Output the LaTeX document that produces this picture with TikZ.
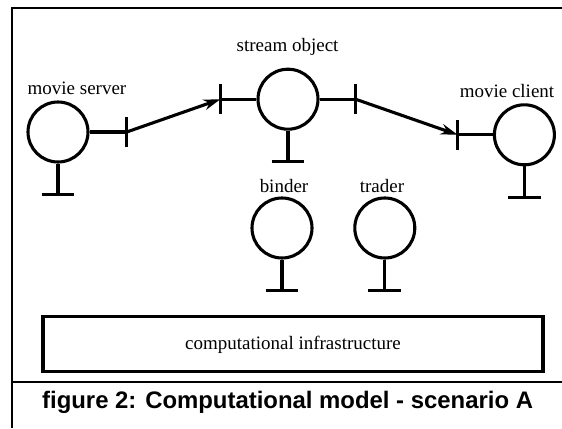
\documentclass[tikz,border=0pt]{standalone}
\usepackage{fontspec}
\setmainfont{Liberation Serif}
\newfontfamily\captionfont{Liberation Sans}
\usetikzlibrary{arrows.meta}
\begin{document}
\begin{tikzpicture}[>={Stealth[length=12pt,width=7.5pt]}, line width=2.2pt,
  obj/.style={circle, draw, minimum size=1.5cm, inner sep=0pt},
  lbl/.style={font=\fontsize{13.5}{15}\selectfont, anchor=base}]
\useasboundingbox (0,0) rectangle (14.05,10.7);

% frame
\draw[line width=0.8pt] (14.05,10.5)--(0.3,10.5)--(0.3,0);
\draw[line width=0.8pt] (0.3,1.15)--(14.05,1.15);

\node[obj] (server) at (1.45,7.4){};
\node[obj] (stream) at (7.2,8.22){};
\node[obj] (client) at (13.11,7.33){};
\node[obj] (binder) at (7.05,5.0){};
\node[obj] (trader) at (9.62,5.0){};

\node[lbl] (serverlbl) at (1.925,8.325){movie server};
\node[lbl] (streamlbl) at (7.19,9.4){stream object};
\node[lbl] (clientlbl) at (12.675,8.25){movie client};
\node[lbl] (binderlbl) at (7.1,5.9){binder};
\node[lbl] (traderlbl) at (9.55,5.9){trader};

% stems
\foreach \o in {server,stream,client,binder,trader}
  \draw (\o.south)--++(0,-0.78) ++(-0.41,0)--++(0.82,0);

% ports
\path (server.east) ++(0.93,0) coordinate (serverout);
\path (stream.west) ++(-0.9,0) coordinate (streamin);
\path (stream.east) ++(0.9,0) coordinate (streamout);
\path (client.west) ++(-0.88,0) coordinate (clientin);
\draw (server.east)--(serverout);
\draw (stream.west)--(streamin);
\draw (stream.east)--(streamout);
\draw (client.west)--(clientin);
\foreach \p in {serverout,streamin,streamout,clientin}
  \draw ([yshift=-0.375cm]\p)--([yshift=0.375cm]\p);

\draw [->] (serverout)--(streamin);
\draw [->] (streamout)--(clientin);

\node[draw, minimum width=12.5cm, minimum height=1.375cm,
  font=\fontsize{13.5}{15}\selectfont] (infra) at (7.325,2.09){computational infrastructure};

\node[font=\captionfont\bfseries\fontsize{17}{20}\selectfont] (title) at (7.19,0.64){figure 2: Computational model - scenario A};
\end{tikzpicture}
\end{document}
